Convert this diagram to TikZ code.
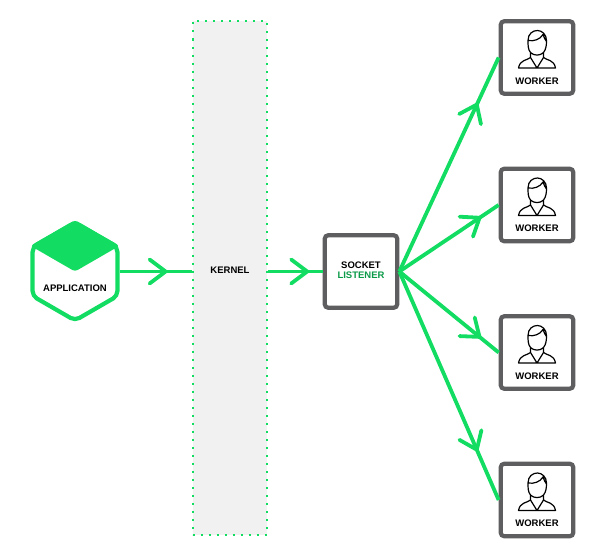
\documentclass[tikz,border=0pt]{standalone}
\usepackage{fontspec}
\setmainfont{Liberation Sans}
\usepackage{xcolor}
\usetikzlibrary{decorations.markings,shapes.geometric}
\definecolor{flowgreen}{HTML}{12DC62}
\definecolor{labelgreen}{HTML}{0B9A48}
\definecolor{boxgray}{HTML}{5E5E60}
\definecolor{kernelgray}{HTML}{F1F1F1}
\newcommand{\boxside}{72.5pt}
\tikzset{
    flow/.style = {draw=flowgreen, line width=3.8pt},
    chevron/.style = {postaction={decorate}, decoration={markings, mark=at position #1 with {
        \draw[flowgreen, line width=3.8pt, line cap=round, line join=round] (-16,-12) -- (0,0) -- (-16,12);}}},
    boxnode/.style = {draw=boxgray, fill=white, line width=4.2pt, rounded corners=3.5pt, minimum size=\boxside, inner sep=0pt},
    caption/.style = {inner sep=0pt, font=\fontsize{9.5}{10}\selectfont\bfseries, text=black},
    person/.pic = {
        \draw[black, line width=1.2pt, line join=round, line cap=round]
            (-6.5,-5) .. controls (-9,-8) and (-9,-12) .. (-9,-17)
            .. controls (-9,-24) and (-4,-27) .. (0.5,-27)
            .. controls (5,-27) and (9.5,-23) .. (9.5,-17)
            .. controls (9.5,-12) and (9,-8) .. (6.5,-5)
            .. controls (3,-1.5) and (-3,-1.5) .. (-6.5,-5)
            (-9,-17) .. controls (-3,-16) and (3,-18) .. (6,-23)
            .. controls (7,-20) and (8,-18) .. (9.5,-16)
            (-6.5,-5) -- (-6.5,0) .. controls (-10,3) and (-17,2) .. (-18.5,10.5)
            -- (18.5,10.5) .. controls (17,2) and (10,3) .. (6.5,0) -- (6.5,-5)
            (-6.5,0) -- (0,10.5) -- (6.5,0);
    }
}

\begin{document}
\begin{tikzpicture}[x=1pt, y=-1pt]
    \useasboundingbox (0,0) rectangle (600,554);
    \node[draw=flowgreen, fill=kernelgray, line width=2pt, dash pattern=on 2pt off 6pt, minimum width=74pt, minimum height=514pt, inner sep=0pt] (kernel) at (229.5,277.5) {};
    \node[caption] (kerneltext) at (230,270) {KERNEL};

    % application hexagon
    \node[regular polygon, regular polygon sides=6, shape border rotate=-30, draw=flowgreen, fill=white, line width=4.2pt, rounded corners=5pt, minimum size=98pt, inner sep=0pt] (app) at (75,271.5) {};
    \fill[flowgreen, rounded corners=3pt] (app.corner 2) -- (app.corner 3) -- (app.center) -- (app.corner 1) -- cycle;
    \node[caption] (apptext) at (75,288) {APPLICATION};

    \node[boxnode] (socket) at (361,271.5) {};
    \node[caption] (sockettext) at (361,265) {SOCKET};
    \node[caption, text=labelgreen] (listenertext) at (361,275) {LISTENER};

    \draw[flow, chevron=0.64] (app.east) -- (app.east -| kernel.west);
    \draw[flow, chevron=0.72] (socket.west -| kernel.east) -- (socket.west);

    \foreach \w/\wy/\wpos in {1/57.5/0.78, 2/205/0.81, 3/352.5/0.81, 4/500/0.78} {
        \node[boxnode] (worker\w) at (537,\wy) {};
        \pic at (worker\w.center) {person};
        \node[caption] (workertext\w) at ([yshift=-23.5pt]worker\w.center) {WORKER};
        \draw[flow, chevron=\wpos] (socket.east) -- (worker\w.west);
    }
\end{tikzpicture}
\end{document}
